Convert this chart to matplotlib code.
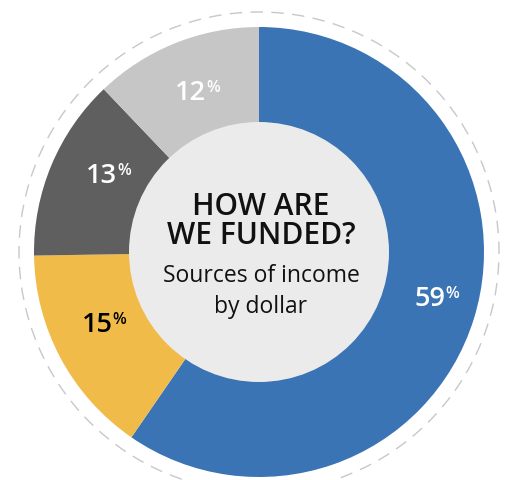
import numpy as np
import matplotlib

matplotlib.use("Agg")
import matplotlib.pyplot as plt
from matplotlib.patches import Circle

# income share by source, clockwise from 12 o'clock
shares = [59, 15, 13, 12]
colors = ["#3a74b4", "#f1bb4a", "#5f5f5f", "#c6c6c6"]
label_colors = ["white", "black", "white", "white"]
title_lines = ["HOW ARE", "WE FUNDED?"]
subtitle_lines = ["Sources of income", "by dollar"]

W, H = 510, 481
fig = plt.figure(figsize=(W / 100, H / 100), dpi=100)
ax = fig.add_axes([0, 0, 1, 1])

cx, cy = 259, H - 253
radius = 225
font = "Open Sans"
# small hand nudges (degrees) so labels sit where the original has them
nudge = [3, -5, -4, 1]

wedges, _ = ax.pie(
    shares,
    colors=colors,
    startangle=90,
    counterclock=False,
    radius=radius,
    center=(cx, cy),
    wedgeprops=dict(linewidth=0),
    frame=True,
)
ax.set_xlim(0, W)
ax.set_ylim(0, H)
ax.set_aspect("equal")
ax.axis("off")

ax.add_patch(Circle((cx, cy), 240, fill=False, edgecolor="#c8c8c8", linewidth=1.0,
                    linestyle=(0, (9, 6))))
ax.add_patch(Circle((cx, cy), 130, facecolor="#ebebeb", edgecolor="none", zorder=3))

for w, val, tc, dn in zip(wedges, shares, label_colors, nudge):
    mid = np.deg2rad((w.theta1 + w.theta2) / 2 + dn)
    lx = cx + 176 * np.cos(mid)
    ly = cy + 176 * np.sin(mid)
    num = ax.text(lx, ly - 9.5, str(val), ha="center", va="baseline", fontsize=19.5,
                  fontfamily=font, fontweight="semibold", color=tc, zorder=4)
    ax.text(lx + 15.5, ly - 1.5, "%", ha="left", va="baseline", fontsize=11.5,
            fontfamily=font, fontweight="semibold", color=tc, zorder=4)

ax.text(cx + 2, H - 207, title_lines[0], ha="center", va="center", fontsize=21.5,
        fontfamily=font, fontweight="semibold", color="#111111", zorder=4)
ax.text(cx + 2, H - 236, title_lines[1], ha="center", va="center", fontsize=21.5,
        fontfamily=font, fontweight="semibold", color="#111111", zorder=4)
ax.text(cx + 2, H - 276, subtitle_lines[0], ha="center", va="center", fontsize=16.5,
        fontfamily=font, color="#111111", zorder=4)
ax.text(cx + 2, H - 307, subtitle_lines[1], ha="center", va="center", fontsize=16.5,
        fontfamily=font, color="#111111", zorder=4)

fig.savefig("out.png", dpi=100)
